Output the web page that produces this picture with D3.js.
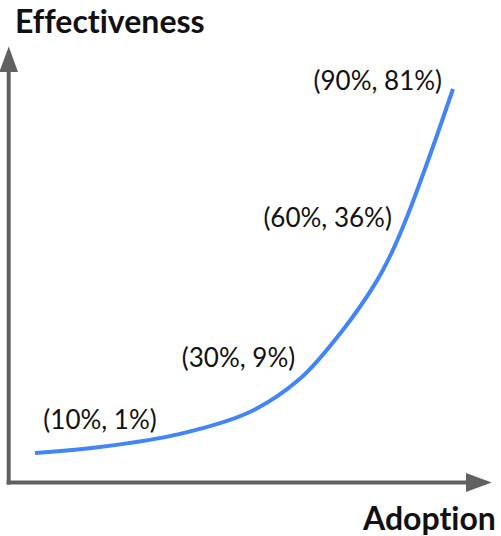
<!DOCTYPE html>
<html>
<head>
<meta charset="utf-8">
<script src="https://cdn.jsdelivr.net/npm/d3@7"></script>
<style>
  html, body { margin: 0; padding: 0; background: #fff; }
  svg { display: block; }
  text { font-family: Lato, "Open Sans", sans-serif; font-variant-ligatures: none; }
</style>
</head>
<body>
<svg id="chart" width="501" height="536"></svg>
<script>
// Curve samples (adoption %, effectiveness %)
const adoption      = [10, 22.4, 37.8, 51.1, 60.7, 68.9, 75.5, 78.5, 81.2, 85.6, 90];
const effectiveness = [1,  2.3,  5.2,  10.0, 17.3, 28.0, 39.0, 45.6, 52.9, 66.5, 81];

// Annotation texts and where they sit (data units, right end / baseline)
const labelTexts = ["(10%, 1%)", "(30%, 9%)", "(60%, 36%)", "(90%, 81%)"];
const labelAdoption = [33.3, 59.8, 78.3, 87.9];
const labelEffectiveness = [6.3, 19.9, 50.7, 80.8];

const axisTitles = { x: "Adoption", y: "Effectiveness" };

const svg = d3.select("#chart");

const x = d3.scaleLinear().domain([10, 90]).range([35, 453]);
const y = d3.scaleLinear().domain([1, 81]).range([453, 89]);

const axisColor = "#616161";
const originX = 8.7, originY = 482.5;

// axes
svg.append("line")
  .attr("x1", originX).attr("x2", originX)
  .attr("y1", originY + 2).attr("y2", 70)
  .attr("stroke", axisColor).attr("stroke-width", 4);
svg.append("path")
  .attr("d", `M${originX},46.5 L${originX + 9.3},72 L${originX - 9.3},72 Z`)
  .attr("fill", axisColor);

svg.append("line")
  .attr("x1", originX - 2).attr("x2", 468)
  .attr("y1", originY).attr("y2", originY)
  .attr("stroke", axisColor).attr("stroke-width", 4);
svg.append("path")
  .attr("d", `M491.7,${originY} L466,${originY - 9.5} L466,${originY + 9.5} Z`)
  .attr("fill", axisColor);

// curve
const pts = adoption.map((a, i) => [a, effectiveness[i]]);
svg.append("path")
  .datum(pts)
  .attr("fill", "none")
  .attr("stroke", "#4285f4")
  .attr("stroke-width", 4)
  .attr("d", d3.line().x(d => x(d[0])).y(d => y(d[1])).curve(d3.curveCatmullRom.alpha(0.5)));

// annotations
svg.selectAll("text.lbl")
  .data(labelTexts)
  .join("text")
  .attr("class", "lbl")
  .attr("x", (d, i) => x(labelAdoption[i]))
  .attr("y", (d, i) => y(labelEffectiveness[i]))
  .attr("text-anchor", "end")
  .attr("font-size", 26)
  .attr("fill", "#111")
  .text(d => d);

// axis titles
svg.append("text")
  .attr("x", 15).attr("y", 33)
  .attr("font-size", 32).attr("font-weight", "bold").attr("fill", "#111")
  .text(axisTitles.y);
svg.append("text")
  .attr("x", 363).attr("y", 530)
  .attr("font-size", 32).attr("font-weight", "bold").attr("fill", "#111")
  .text(axisTitles.x);
</script>
</body>
</html>
